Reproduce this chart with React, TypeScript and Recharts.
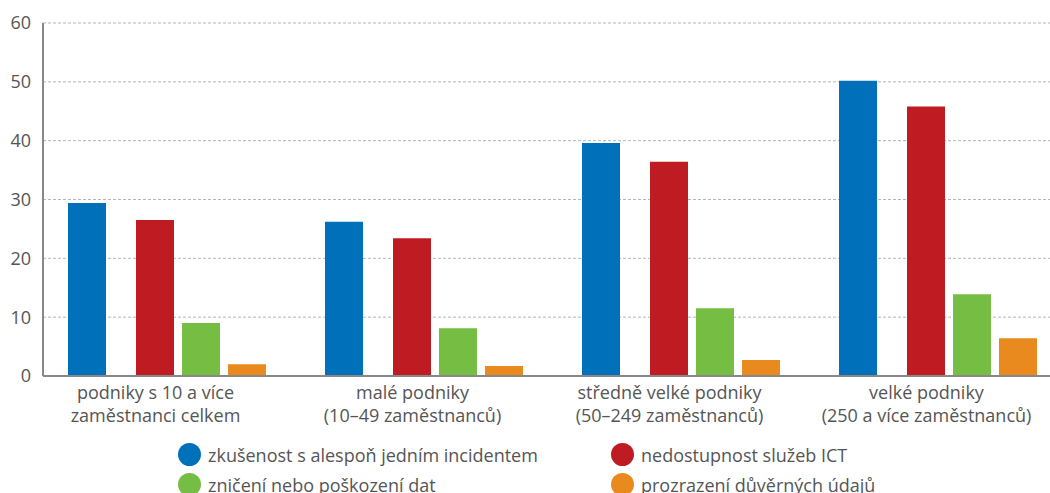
import React from "react";
import { BarChart, Bar, XAxis, YAxis, CartesianGrid, Legend } from "recharts";

const categories = [
  "podniky s 10 a více\nzaměstnanci celkem",
  "malé podniky\n(10–49 zaměstnanců)",
  "středně velké podniky\n(50–249 zaměstnanců)",
  "velké podniky\n(250 a více zaměstnanců)",
];
const incident = [29.4, 26.2, 39.6, 50.2];
const unavailability = [26.5, 23.4, 36.4, 45.8];
const dataLoss = [9.0, 8.1, 11.5, 13.9];
const disclosure = [2.0, 1.7, 2.7, 6.4];

const seriesNames = [
  "zkušenost s alespoň jedním incidentem",
  "nedostupnost služeb ICT",
  "zničení nebo poškození dat",
  "prozrazení důvěrných údajů",
];
const seriesColors = ["#0070BA", "#BE1B22", "#76BE43", "#E88A1D"];
const yTicks = [0, 10, 20, 30, 40, 50, 60];

const data = categories.map((c, i) => ({
  category: c,
  incident: incident[i],
  unavailability: unavailability[i],
  dataLoss: dataLoss[i],
  disclosure: disclosure[i],
}));

const FONT = "'Open Sans', 'DejaVu Sans', sans-serif";

const CategoryTick = (props: any) => {
  const { x, y, payload } = props;
  const lines = String(payload.value).split("\n");
  return (
    <text
      x={x}
      y={y}
      textAnchor="middle"
      fill="#555"
      fontSize={18}
      fontFamily={FONT}
    >
      {lines.map((l, i) => (
        <tspan key={i} x={x - 11} dy={i === 0 ? 15 : 23}>
          {l}
        </tspan>
      ))}
    </text>
  );
};

const renderLegend = () => {
  const order = [0, 1, 2, 3];
  return (
    <div
      style={{
        display: "grid",
        gridTemplateColumns: "433px 433px",
        rowGap: 7,
        paddingLeft: 178,
        fontFamily: FONT,
        fontSize: 18,
        color: "#555",
      }}
    >
      {order.map((i) => (
        <div key={i} style={{ display: "flex", alignItems: "center", height: 23, whiteSpace: "nowrap" }}>
          <span
            style={{
              display: "inline-block",
              flex: "0 0 23px",
              width: 23,
              height: 23,
              borderRadius: "50%",
              background: seriesColors[i],
              marginRight: 7,
            }}
          />
          <span>{seriesNames[i]}</span>
        </div>
      ))}
    </div>
  );
};

export default function App() {
  return (
    <div
      style={{
        position: "absolute",
        left: 0,
        top: 0,
        width: 1050,
        height: 493,
        overflow: "hidden",
        background: "#fff",
        fontFamily: FONT,
      }}
    >
      <BarChart
        width={1066}
        height={493}
        data={data}
        margin={{ top: 23, right: 0, bottom: 57, left: 0 }}
        barGap={8}
      >
        <CartesianGrid
          vertical={false}
          stroke="#b5b5b5"
          strokeDasharray="3 2"
        />
        <XAxis
          dataKey="category"
          height={60}
          interval={0}
          tickLine={false}
          axisLine={{ stroke: "#888", strokeWidth: 2 }}
          padding={{ left: -5, right: 0 }}
          tick={<CategoryTick />}
        />
        <YAxis
          width={43}
          domain={[0, 60]}
          ticks={yTicks}
          interval={0}
          tickLine={false}
          tickSize={6}
          tickMargin={6}
          axisLine={{ stroke: "#888", strokeWidth: 2 }}
          tick={{ fill: "#555", fontSize: 18, fontFamily: FONT }}
        />
        <Legend
          layout="horizontal"
          verticalAlign="middle"
          align="center"
          content={renderLegend}
          wrapperStyle={{ position: "absolute", left: 0, top: 443, width: 1050, height: 60 }}
        />
        <Bar dataKey="incident" name={seriesNames[0]} fill={seriesColors[0]} barSize={38} isAnimationActive={false} />
        <Bar dataKey="spacer" legendType="none" fill="transparent" barSize={14} isAnimationActive={false} />
        <Bar dataKey="unavailability" name={seriesNames[1]} fill={seriesColors[1]} barSize={38} isAnimationActive={false} />
        <Bar dataKey="dataLoss" name={seriesNames[2]} fill={seriesColors[2]} barSize={38} isAnimationActive={false} />
        <Bar dataKey="disclosure" name={seriesNames[3]} fill={seriesColors[3]} barSize={38} isAnimationActive={false} />
      </BarChart>
    </div>
  );
}
